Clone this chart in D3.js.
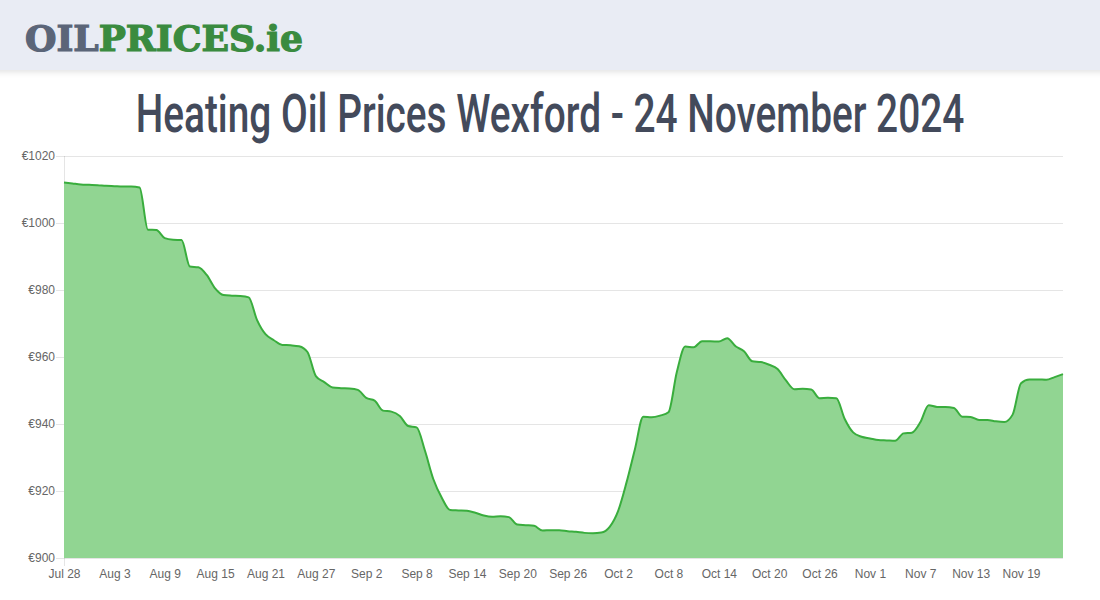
<!DOCTYPE html>
<html><head><meta charset="utf-8">
<script src="https://cdn.jsdelivr.net/npm/d3@7"></script>
<style>
html,body{margin:0;padding:0;background:#fff;}
svg{display:block;}
</style></head>
<body>
<svg id="chart" width="1100" height="600"></svg>
<script>
// ---- data ----
const startDate = "2024-07-28";
const prices = [
 1012.1,1011.8,1011.5,1011.4,1011.3,1011.1,1011.0,1010.9,1010.9,1010.6,
 998.0,997.9,995.5,995.0,994.9,987.0,986.8,984.5,980.5,978.5,
 978.3,978.2,977.8,971.0,966.8,965.0,963.6,963.5,963.2,961.5,
 954.3,952.5,950.9,950.7,950.6,950.2,947.8,947.0,944.0,943.7,
 942.4,939.4,939.0,932.0,923.5,918.0,914.3,914.2,914.1,913.5,
 912.7,912.3,912.5,912.2,910.0,909.8,909.6,908.2,908.3,908.3,
 908.0,907.8,907.5,907.4,907.6,909.3,914.0,922.5,932.4,942.2,
 942.0,942.5,943.5,955.5,963.1,962.9,964.7,964.7,964.6,965.6,
 963.2,961.7,958.7,958.5,957.7,956.4,953.0,950.4,950.5,950.3,
 947.7,947.8,947.7,941.5,937.5,936.2,935.7,935.2,935.1,935.0,
 937.2,937.4,940.5,945.6,945.1,945.1,944.8,942.2,942.1,941.2,
 941.2,940.8,940.6,942.8,952.2,953.3,953.3,953.2,954.0,954.9
];
const yTicks = [900,920,940,960,980,1000,1020];
const xTickLabels = ["Jul 28","Aug 3","Aug 9","Aug 15","Aug 21","Aug 27","Sep 2","Sep 8","Sep 14","Sep 20","Sep 26","Oct 2","Oct 8","Oct 14","Oct 20","Oct 26","Nov 1","Nov 7","Nov 13","Nov 19"];
const xTickEvery = 6;
const titleText = "Heating Oil Prices Wexford - 24 November 2024";

// ---- build ----
const svg = d3.select("#chart");
const W = 1100, H = 600;
const m = {left:64, right:37, top:156, bottom:42};

// header
const defs = svg.append("defs");
const f = defs.append("filter").attr("id","sh").attr("x","-5%").attr("y","-50%").attr("width","110%").attr("height","200%");
f.append("feGaussianBlur").attr("in","SourceAlpha").attr("stdDeviation",3);
f.append("feOffset").attr("dy",2).attr("result","b");
f.append("feComponentTransfer").append("feFuncA").attr("type","linear").attr("slope",0.12);
const fm = f.append("feMerge"); fm.append("feMergeNode"); fm.append("feMergeNode").attr("in","SourceGraphic");
svg.append("rect").attr("x",-10).attr("y",-10).attr("width",W+20).attr("height",80).attr("fill","#e9ecf4").attr("filter","url(#sh)");

const logo = svg.append("text").attr("x",25).attr("y",51)
  .attr("font-family","'DejaVu Serif', serif").attr("font-weight","900").attr("font-size",35)
  .attr("stroke-width",1.2).attr("paint-order","stroke")
  .attr("textLength",278).attr("lengthAdjust","spacingAndGlyphs");
logo.append("tspan").attr("fill","#5b6578").attr("stroke","#5b6578").text("OIL");
logo.append("tspan").attr("fill","#3a8b3f").attr("stroke","#3a8b3f").text("PRICES.ie");

// title: horizontally condensed via scale so its box fits the page
const titleG = svg.append("g");
const title = titleG.append("text").attr("x",0).attr("y",0).attr("text-anchor","middle")
  .attr("font-family","Roboto,'DejaVu Sans',sans-serif")
  .attr("font-weight","500")
  .attr("font-size",53).attr("fill","#434a5b")
  .text(titleText);
const natW = title.node().getComputedTextLength();
const sx = 829 / natW;
titleG.attr("transform",`translate(550,132) scale(${sx},1)`);

const n = prices.length;
const x = d3.scaleLinear().domain([0,n-1]).range([m.left, W-m.right]);
const y = d3.scaleLinear().domain([900,1020]).range([H-m.bottom, m.top]);

// grid
const g = svg.append("g");
g.selectAll("line.grid").data(yTicks).join("line")
  .attr("x1",m.left-8).attr("x2",W-m.right)
  .attr("y1",d=>y(d)+0.5).attr("y2",d=>y(d)+0.5)
  .attr("stroke","rgba(0,0,0,0.1)").attr("stroke-width",1);
g.append("line").attr("x1",m.left+0.5).attr("x2",m.left+0.5).attr("y1",m.top).attr("y2",H-m.bottom+8)
  .attr("stroke","rgba(0,0,0,0.1)");

// area + line
const curve = d3.curveMonotoneX;
const area = d3.area().x((d,i)=>x(i)).y0(y(900)).y1(d=>y(d)).curve(curve);
const line = d3.line().x((d,i)=>x(i)).y(d=>y(d)).curve(curve);
svg.append("path").datum(prices).attr("d",area).attr("fill","#91d592");
svg.append("path").datum(prices).attr("d",line).attr("fill","none").attr("stroke","#39ad3d").attr("stroke-width",2);

// y axis labels
const yAxis = d3.axisLeft(y).tickValues(yTicks).tickSize(0).tickPadding(9).tickFormat(d=>"€"+d);
const ya = svg.append("g").attr("transform",`translate(${m.left},0)`).call(yAxis);
ya.select(".domain").remove();
ya.selectAll("text").attr("font-family","'Liberation Sans',Arial,sans-serif").attr("font-size",12).attr("fill","#666");

// x axis labels
const xTickIdx = xTickLabels.map((_,k)=>k*xTickEvery);
const xAxis = d3.axisBottom(x).tickValues(xTickIdx).tickSize(0).tickPadding(11).tickFormat((d,k)=>xTickLabels[k]);
const xa = svg.append("g").attr("transform",`translate(0,${H-m.bottom})`).call(xAxis);
xa.select(".domain").remove();
xa.selectAll("text").attr("font-family","'Liberation Sans',Arial,sans-serif").attr("font-size",12).attr("fill","#666");
</script>
</body></html>
